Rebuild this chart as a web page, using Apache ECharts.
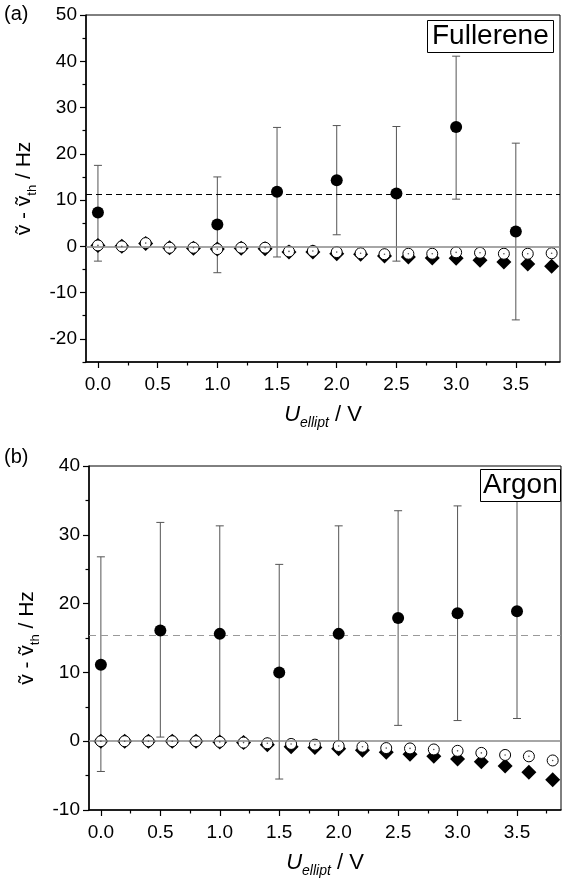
<!DOCTYPE html>
<html>
<head>
<meta charset="utf-8">
<script src="https://cdn.jsdelivr.net/npm/echarts@6/dist/echarts.min.js"></script>
<style>
html,body{margin:0;padding:0;background:#fff;}
#chart{width:562px;height:879px;}
</style>
</head>
<body>
<div id="chart"></div>
<script>
// ---------- data ----------
// U_ellipt grid for simulated/theoretical points
const uGrid = [0.0, 0.2, 0.4, 0.6, 0.8, 1.0, 1.2, 1.4, 1.6, 1.8, 2.0, 2.2, 2.4, 2.6, 2.8, 3.0, 3.2, 3.4, 3.6, 3.8];
// Panel (a) Fullerene
const uMeasA = [0.0, 1.0, 1.5, 2.0, 2.5, 3.0, 3.5];
const valMeasA = [7.3, 4.7, 11.8, 14.3, 11.4, 25.8, 3.2];
const errLowA = [-3.2, -5.7, -2.3, 2.5, -3.2, 10.2, -15.9];
const errHighA = [17.5, 15.0, 25.7, 26.1, 25.9, 41.1, 22.3];
const circA = [0.2, 0.0, 0.7, -0.3, -0.3, -0.6, -0.3, -0.3, -1.1, -1.0, -1.25, -1.5, -1.7, -1.6, -1.6, -1.3, -1.4, -1.6, -1.6, -1.5];
const diamA = [0.2, 0.0, 0.6, -0.3, -0.4, -0.6, -0.4, -0.5, -1.2, -1.2, -1.6, -1.7, -2.1, -2.3, -2.5, -2.6, -3.0, -3.4, -3.8, -4.3];
const meanA = 11.2;
// Panel (b) Argon
const uMeasB = [0.0, 0.5, 1.0, 1.5, 2.0, 2.5, 3.0, 3.5];
const valMeasB = [11.1, 16.1, 15.6, 10.0, 15.6, 17.9, 18.6, 18.9];
const errLowB = [-4.4, 0.6, 0.0, -5.5, -0.1, 2.3, 3.0, 3.3];
const errHighB = [26.8, 31.8, 31.3, 25.7, 31.3, 33.5, 34.2, 34.9];
const circB = [0.0, 0.0, 0.0, 0.0, 0.0, -0.1, -0.2, -0.3, -0.4, -0.5, -0.7, -0.8, -1.0, -1.05, -1.2, -1.4, -1.7, -2.0, -2.2, -2.8];
const diamB = [0.0, 0.0, 0.0, 0.0, 0.0, -0.1, -0.2, -0.5, -0.8, -0.9, -1.1, -1.3, -1.6, -1.9, -2.2, -2.6, -3.0, -3.6, -4.5, -5.6];
const meanB = 15.4;
// ticks
const xMajorTicks = [0.0, 0.5, 1.0, 1.5, 2.0, 2.5, 3.0, 3.5];
const xMinorTicks = [0.25, 0.75, 1.25, 1.75, 2.25, 2.75, 3.25, 3.75];
const yMajorTicksA = [-20, -10, 0, 10, 20, 30, 40, 50];
const yMinorTicksA = [-25, -15, -5, 5, 15, 25, 35, 45];

// ---------- build ----------
const FONT = 'Liberation Sans, Arial, sans-serif';
const pairs = (xs, ys) => xs.map((x, i) => [x, ys[i]]);
const errData = (xs, lo, hi) => xs.map((x, i) => [x, lo[i], hi[i]]);

function errRender(params, api) {
  const x = api.value(0);
  const pl = api.coord([x, api.value(1)]);
  const ph = api.coord([x, api.value(2)]);
  const w = 4;
  const st = {stroke: '#555', lineWidth: 1};
  return {type: 'group', children: [
    {type: 'line', shape: {x1: pl[0], y1: pl[1], x2: ph[0], y2: ph[1]}, style: st},
    {type: 'line', shape: {x1: pl[0] - w, y1: pl[1], x2: pl[0] + w, y2: pl[1]}, style: st},
    {type: 'line', shape: {x1: ph[0] - w, y1: ph[1], x2: ph[0] + w, y2: ph[1]}, style: st}
  ]};
}

const xName = '{u|U}{e|ellipt}{v| / V}';
const xNameStyle = {
  rich: {
    u: {fontSize: 22, fontStyle: 'italic', fontFamily: FONT, color: '#000', lineHeight: 30},
    e: {fontSize: 14, fontStyle: 'italic', fontFamily: FONT, color: '#000', lineHeight: 16, verticalAlign: 'bottom'},
    v: {fontSize: 22, fontFamily: FONT, color: '#000', lineHeight: 30}
  }
};
const yName = '{a|\u1E7D - \u1E7D}{s|th}{a| / Hz}';
const yNameStyle = {
  rich: {
    a: {fontSize: 21, fontFamily: FONT, color: '#000', lineHeight: 28},
    s: {fontSize: 13, fontFamily: FONT, color: '#000', lineHeight: 14, verticalAlign: 'bottom'}
  }
};

function xMajor(grid) {
  return {
    type: 'value', gridIndex: grid, min: -0.1, max: 3.87,
    name: xName, nameLocation: 'middle', nameGap: 38, nameTextStyle: xNameStyle,
    axisLine: {show: true, onZero: false, lineStyle: {color: '#000', width: 1.5}},
    axisTick: {show: true, inside: false, length: 6, customValues: xMajorTicks, lineStyle: {color: '#000', width: 1.2}},
    axisLabel: {show: true, customValues: xMajorTicks, margin: 13, fontSize: 19, fontFamily: FONT, color: '#000',
      formatter: v => Number(v).toFixed(1)},
    splitLine: {show: false}
  };
}
function xMinor(grid) {
  return {
    type: 'value', gridIndex: grid, min: -0.1, max: 3.87, position: 'bottom',
    axisLine: {show: false, onZero: false},
    axisTick: {show: true, inside: false, length: 3.5, customValues: xMinorTicks, lineStyle: {color: '#000', width: 1.2}},
    axisLabel: {show: false}, splitLine: {show: false}
  };
}

const option = {
  backgroundColor: '#fff',
  animation: false,
  title: [
    {text: '(a)', left: 4, top: 4, padding: 0, textStyle: {fontSize: 20, fontWeight: 'normal', fontFamily: FONT, color: '#000'}},
    {text: '(b)', left: 4, top: 447, padding: 0, textStyle: {fontSize: 20, fontWeight: 'normal', fontFamily: FONT, color: '#000'}},
    {text: 'Fullerene', left: 427, top: 20, padding: [2, 5, 2, 5], borderWidth: 1, borderColor: '#000', backgroundColor: '#fff',
      textStyle: {fontSize: 28, fontWeight: 'normal', fontFamily: FONT, color: '#000', lineHeight: 29}},
    {text: 'Argon', left: 480, top: 469, padding: [2, 3, 2, 3], borderWidth: 1, borderColor: '#000', backgroundColor: '#fff',
      textStyle: {fontSize: 28, fontWeight: 'normal', fontFamily: FONT, color: '#000', lineHeight: 29}}
  ],
  grid: [
    {left: 86, top: 15, width: 474, height: 347, show: true, borderColor: '#000', borderWidth: 1, backgroundColor: 'transparent'},
    {left: 89, top: 466, width: 472, height: 350, show: true, borderColor: '#000', borderWidth: 1, backgroundColor: 'transparent'}
  ],
  xAxis: [xMajor(0), xMinor(0), xMajor(1), xMinor(1)],
  yAxis: [
    {type: 'value', gridIndex: 0, min: -25, max: 50,
      name: yName, nameLocation: 'middle', nameGap: 37, nameRotate: 90, nameTextStyle: yNameStyle,
      axisLine: {show: true, onZero: false, lineStyle: {color: '#000', width: 1.5}},
      axisTick: {show: true, inside: false, length: 6, customValues: yMajorTicksA, lineStyle: {color: '#000', width: 1.2}},
      axisLabel: {show: true, customValues: yMajorTicksA, margin: 9, fontSize: 19, fontFamily: FONT, color: '#000'},
      splitLine: {show: false}},
    {type: 'value', gridIndex: 0, min: -25, max: 50, position: 'left',
      axisLine: {show: false, onZero: false},
      axisTick: {show: true, inside: false, length: 3.5, customValues: yMinorTicksA, lineStyle: {color: '#000', width: 1.2}},
      axisLabel: {show: false}, splitLine: {show: false}},
    {type: 'value', gridIndex: 1, min: -10, max: 40, interval: 10,
      name: yName, nameLocation: 'middle', nameGap: 40, nameRotate: 90, nameTextStyle: yNameStyle,
      axisLine: {show: true, onZero: false, lineStyle: {color: '#000', width: 1.5}},
      axisTick: {show: true, inside: false, length: 6, lineStyle: {color: '#000', width: 1.2}},
      minorTick: {show: true, splitNumber: 2, length: 3.5, lineStyle: {color: '#000', width: 1.2}},
      axisLabel: {show: true, margin: 9, fontSize: 19, fontFamily: FONT, color: '#000'},
      splitLine: {show: false}, minorSplitLine: {show: false}}
  ],
  series: [
    // reference lines panel a
    {type: 'line', xAxisIndex: 0, yAxisIndex: 0, data: [], z: 1, silent: true,
      markLine: {silent: true, symbol: 'none', label: {show: false}, animation: false,
        data: [
          {yAxis: 0, lineStyle: {color: '#888', width: 1.5, type: 'solid'}},
          {yAxis: meanA, lineStyle: {color: '#000', width: 1.2, type: [6, 4]}}
        ]}},
    // reference lines panel b
    {type: 'line', xAxisIndex: 2, yAxisIndex: 2, data: [], z: 1, silent: true,
      markLine: {silent: true, symbol: 'none', label: {show: false}, animation: false,
        data: [
          {yAxis: 0, lineStyle: {color: '#888', width: 1.5, type: 'solid'}},
          {yAxis: meanB, lineStyle: {color: '#999', width: 1.2, type: [7, 5]}}
        ]}},
    // error bars
    {type: 'custom', xAxisIndex: 0, yAxisIndex: 0, z: 2, renderItem: errRender,
      encode: {x: 0, y: [1, 2]}, data: errData(uMeasA, errLowA, errHighA)},
    {type: 'custom', xAxisIndex: 2, yAxisIndex: 2, z: 2, renderItem: errRender,
      encode: {x: 0, y: [1, 2]}, data: errData(uMeasB, errLowB, errHighB)},
    // diamonds
    {type: 'scatter', xAxisIndex: 0, yAxisIndex: 0, z: 3, symbol: 'diamond', symbolSize: 15,
      itemStyle: {color: '#000', opacity: 1}, data: pairs(uGrid, diamA)},
    {type: 'scatter', xAxisIndex: 2, yAxisIndex: 2, z: 3, symbol: 'diamond', symbolSize: 15,
      itemStyle: {color: '#000', opacity: 1}, data: pairs(uGrid, diamB)},
    // open circles
    {type: 'scatter', xAxisIndex: 0, yAxisIndex: 0, z: 4, symbol: 'circle', symbolSize: 11,
      itemStyle: {color: '#fff', borderColor: '#000', borderWidth: 1, opacity: 1}, data: pairs(uGrid, circA)},
    {type: 'scatter', xAxisIndex: 2, yAxisIndex: 2, z: 4, symbol: 'circle', symbolSize: 11,
      itemStyle: {color: '#fff', borderColor: '#000', borderWidth: 1, opacity: 1}, data: pairs(uGrid, circB)},
    // centre dots
    {type: 'scatter', xAxisIndex: 0, yAxisIndex: 0, z: 5, symbol: 'circle', symbolSize: 1.6,
      itemStyle: {color: '#555', opacity: 1}, data: pairs(uGrid, circA)},
    {type: 'scatter', xAxisIndex: 2, yAxisIndex: 2, z: 5, symbol: 'circle', symbolSize: 1.6,
      itemStyle: {color: '#555', opacity: 1}, data: pairs(uGrid, circB)},
    // measured filled circles
    {type: 'scatter', xAxisIndex: 0, yAxisIndex: 0, z: 6, symbol: 'circle', symbolSize: 12,
      itemStyle: {color: '#000', opacity: 1}, data: pairs(uMeasA, valMeasA)},
    {type: 'scatter', xAxisIndex: 2, yAxisIndex: 2, z: 6, symbol: 'circle', symbolSize: 12,
      itemStyle: {color: '#000', opacity: 1}, data: pairs(uMeasB, valMeasB)}
  ]
};

const chart = echarts.init(document.getElementById('chart'), null, {renderer: 'canvas', width: 562, height: 879});
chart.setOption(option);
</script>
</body>
</html>
